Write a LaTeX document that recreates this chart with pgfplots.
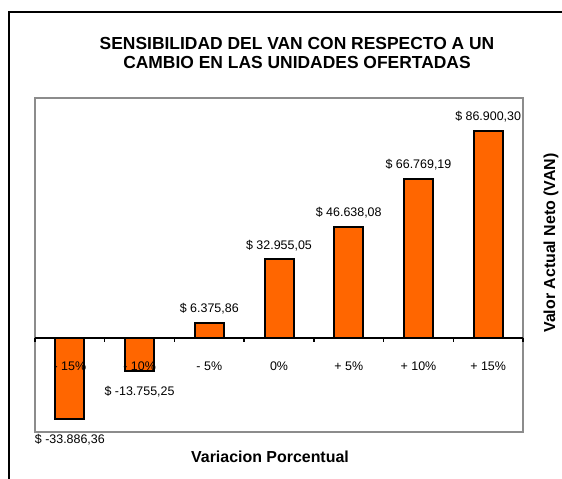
\documentclass[border=0pt]{standalone}
\usepackage{fontspec}
\setmainfont{Liberation Sans}
\usepackage{pgfplots}
\pgfplotsset{compat=1.18}
\definecolor{barorange}{HTML}{FF6600}
\definecolor{framegray}{HTML}{8C8C8C}
\begin{document}
\begin{tikzpicture}[x=1bp,y=1bp]
\path[use as bounding box] (0,0) rectangle (562,479);
\clip (0,0) rectangle (562,479);
\draw[line width=2bp] (9,-20) -- (9,467) -- (600,467);
\node[font=\bfseries\fontsize{17.5}{20}\selectfont, align=center] at (297,426) {SENSIBILIDAD DEL VAN CON RESPECTO A UN\\CAMBIO EN LAS UNIDADES OFERTADAS};
\node[font=\bfseries\fontsize{16}{18}\selectfont] at (270,22.5) {Variacion Porcentual};
\node[font=\bfseries\fontsize{16}{18}\selectfont, rotate=90] at (551,236) {Valor Actual Neto (VAN)};
\begin{axis}[
  at={(35bp,47bp)}, anchor=south west,
  width=488bp, height=334bp, scale only axis,
  xmin=-0.5, xmax=6.5, ymin=-39400, ymax=100600,
  xtick=\empty, ytick=\empty,
  axis line style={framegray, line width=2.5bp},
  ybar, bar width=29bp, bar shift=0pt,
  clip=false,
  nodes near coords,
  point meta=explicit symbolic,
  every node near coord/.append style={font=\fontsize{12.5}{14}\selectfont, text=black},
]
\addplot[fill=barorange, draw=black, line width=2bp,
  nodes near coords style={anchor=south, yshift=4bp}]
  table[meta=lab, col sep=semicolon] {
x;y;lab
2;6375.86;\$ 6.375,86
3;32955.05;\$ 32.955,05
4;46638.08;\$ 46.638,08
5;66769.19;\$ 66.769,19
6;86900.30;\$ 86.900,30
};
\addplot[fill=barorange, draw=black, line width=2bp,
  nodes near coords style={anchor=north, yshift=-11bp}]
  table[meta=lab, col sep=semicolon] {
x;y;lab
0;-33886.36;\$ -33.886,36
1;-13755.25;\$ -13.755,25
};
\draw[black, line width=2bp] (axis cs:-0.5,0) -- (axis cs:6.5,0);
\pgfplotsinvokeforeach{-0.5,0.5,1.5,2.5,3.5,4.5,5.5,6.5}{
  \draw[black, line width=1.5bp] (axis cs:#1,0) -- ([yshift=-4bp]axis cs:#1,0);
}
\node[font=\fontsize{12.5}{14}\selectfont] at ([yshift=-28bp]axis cs:0,0) {- 15\%};
\node[font=\fontsize{12.5}{14}\selectfont] at ([yshift=-28bp]axis cs:1,0) {- 10\%};
\node[font=\fontsize{12.5}{14}\selectfont] at ([yshift=-28bp]axis cs:2,0) {- 5\%};
\node[font=\fontsize{12.5}{14}\selectfont] at ([yshift=-28bp]axis cs:3,0) {0\%};
\node[font=\fontsize{12.5}{14}\selectfont] at ([yshift=-28bp]axis cs:4,0) {+ 5\%};
\node[font=\fontsize{12.5}{14}\selectfont] at ([yshift=-28bp]axis cs:5,0) {+ 10\%};
\node[font=\fontsize{12.5}{14}\selectfont] at ([yshift=-28bp]axis cs:6,0) {+ 15\%};
\end{axis}
\end{tikzpicture}
\end{document}
